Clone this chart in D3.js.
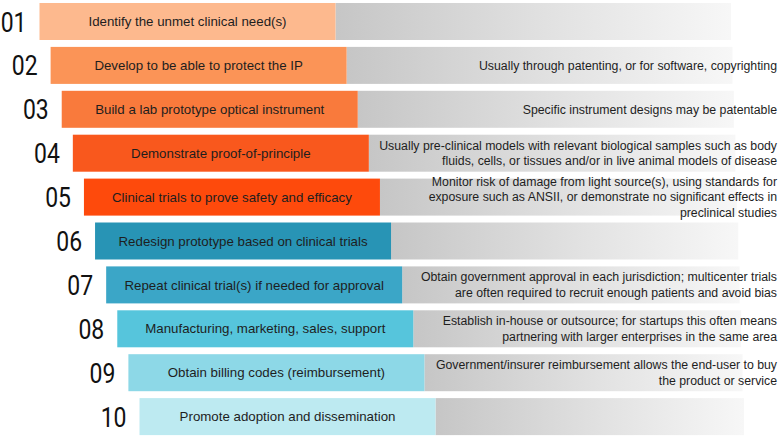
<!DOCTYPE html>
<html>
<head>
<meta charset="utf-8">
<script src="https://cdn.jsdelivr.net/npm/d3@7"></script>
<style>
  html, body { margin: 0; padding: 0; background: #fff; }
  svg { display: block; }
</style>
</head>
<body>
<svg id="chart" width="780" height="437"></svg>
<script>
const stepNumbers = ["01", "02", "03", "04", "05", "06", "07", "08", "09", "10"];

const stepLabels = [
  "Identify the unmet clinical need(s)",
  "Develop to be able to protect the IP",
  "Build a lab prototype optical instrument",
  "Demonstrate proof-of-principle",
  "Clinical trials to prove safety and efficacy",
  "Redesign prototype based on clinical trials",
  "Repeat clinical trial(s) if needed for approval",
  "Manufacturing, marketing, sales, support",
  "Obtain billing codes (reimbursement)",
  "Promote adoption and dissemination"
];

const stepNotes = [
  [],
  ["Usually through patenting, or for software, copyrighting"],
  ["Specific instrument designs may be patentable"],
  ["Usually pre-clinical models with relevant biological samples such as body",
   "fluids, cells, or tissues and/or in live animal models of disease"],
  ["Monitor risk of damage from light source(s), using standards for",
   "exposure such as ANSII, or demonstrate no significant effects in",
   "preclinical studies"],
  [],
  ["Obtain government approval in each jurisdiction;  multicenter trials",
   "are often required to recruit enough patients and avoid bias"],
  ["Establish in-house or outsource; for startups this often means",
   "partnering with larger enterprises in the same area"],
  ["Government/insurer reimbursement allows the end-user to buy",
   "the product or service"],
  []
];

const stepColors = [
  "#fdb98e", "#fb9457", "#f97a3c", "#f9581d", "#fe4a0c",
  "#2894b5", "#3ba6c7", "#56c5dc", "#8dd8e7", "#bdeaf1"
];

const rows = stepNumbers.map((n, i) => ({
  num: n, label: stepLabels[i], notes: stepNotes[i], color: stepColors[i], i: i
}));

const svg = d3.select("#chart");

// vertical placement of the rows: step 43.9, bar 37 tall
const rowStep = 43.9, gap = 6.9;
const y = d3.scaleBand()
  .domain(stepNumbers)
  .range([3, 3 + rowStep * 10 - gap])
  .paddingInner(gap / rowStep)
  .paddingOuter(0);

// each step starts a bit further to the right
const xStart = d3.scaleLinear().domain([0, 9]).range([39.5, 139.5]);
const barWidth = 296;
const greyEnd = d3.scaleLinear().domain([0, 9]).range([731, 744]);

const defs = svg.append("defs");
const grad = defs.append("linearGradient")
  .attr("id", "greyFade")
  .attr("x1", "0%").attr("x2", "100%").attr("y1", "0%").attr("y2", "0%");
grad.append("stop").attr("offset", "0%").attr("stop-color", "#c6c6c6");
grad.append("stop").attr("offset", "55%").attr("stop-color", "#e2e2e2");
grad.append("stop").attr("offset", "100%").attr("stop-color", "#f7f7f7");

const row = svg.selectAll("g.step")
  .data(rows)
  .join("g")
  .attr("class", "step")
  .attr("transform", d => `translate(0,${y(d.num)})`);

// grey fading tail
row.append("rect")
  .attr("x", d => xStart(d.i) + barWidth)
  .attr("y", 0)
  .attr("width", d => greyEnd(d.i) - xStart(d.i) - barWidth)
  .attr("height", y.bandwidth())
  .attr("fill", "url(#greyFade)");

// coloured step bar
row.append("rect")
  .attr("x", d => xStart(d.i))
  .attr("y", 0)
  .attr("width", barWidth)
  .attr("height", y.bandwidth())
  .attr("fill", d => d.color);

// step label
row.append("text")
  .attr("x", d => xStart(d.i) + barWidth / 2)
  .attr("y", y.bandwidth() / 2)
  .attr("dy", "0.35em")
  .attr("text-anchor", "middle")
  .style("font-family", "'Liberation Sans', Arial, sans-serif")
  .style("font-size", "13.3px")
  .style("fill", "#1e1e1e")
  .text(d => d.label);

// big step number
row.append("text")
  .attr("transform", d => `translate(${xStart(d.i) - 13},${y.bandwidth() / 2 + 10}) scale(0.82,1)`)
  .attr("text-anchor", "end")
  .style("font-family", "Roboto, sans-serif")
  .style("font-weight", 400)
  .style("font-size", "28px")
  .style("fill", "#111")
  .text(d => d.num);

// notes on the grey part, right aligned
const lineH = 15.6;
row.append("text")
  .attr("text-anchor", "end")
  .style("font-family", "'Liberation Sans', Arial, sans-serif")
  .style("font-size", "12.3px")
  .style("fill", "#1e1e1e")
  .selectAll("tspan")
  .data(d => d.notes.map((t, k) => ({ t: t, k: k, n: d.notes.length })))
  .join("tspan")
  .attr("x", 777)
  .attr("y", d => y.bandwidth() / 2 + (d.k - (d.n - 1) / 2) * lineH)
  .attr("dy", "0.35em")
  .text(d => d.t);
</script>
</body>
</html>
